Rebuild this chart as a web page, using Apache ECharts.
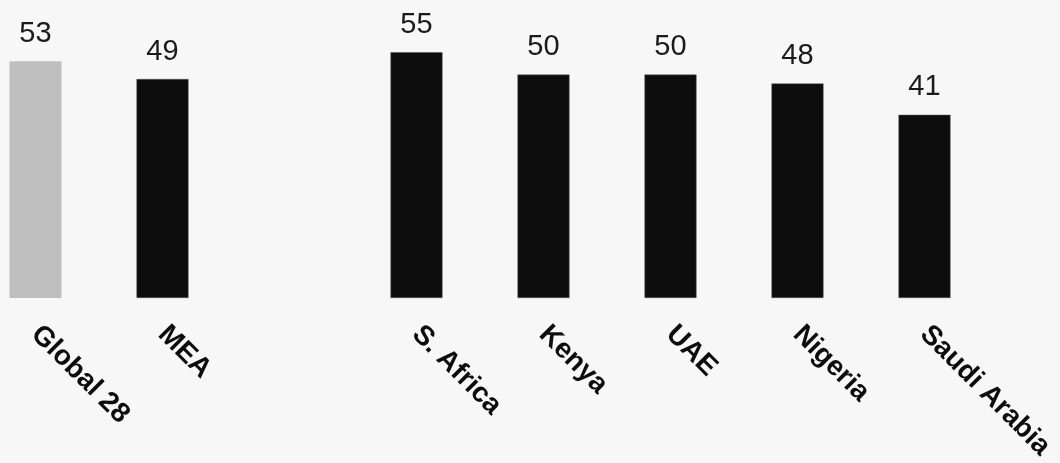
<!DOCTYPE html>
<html>
<head>
<meta charset="utf-8">
<script src="https://cdn.jsdelivr.net/npm/echarts@6/dist/echarts.min.js"></script>
<style>
html,body{margin:0;padding:0;background:#f7f7f7;overflow:hidden;}
#wrap{width:1060px;height:463px;position:relative;overflow:hidden;}
#chart{width:1088px;height:463px;position:absolute;left:-28px;top:0;}
</style>
</head>
<body>
<div id="wrap"><div id="chart"></div></div>
<script>
const categories = ['Global 28', 'MEA', '', 'S. Africa', 'Kenya', 'UAE', 'Nigeria', 'Saudi Arabia'];
const values = [53, 49, null, 55, 50, 50, 48, 41];
const barColors = ['#bfbfbf', '#0d0d0d', '#0d0d0d', '#0d0d0d', '#0d0d0d', '#0d0d0d', '#0d0d0d', '#0d0d0d'];

const chart = echarts.init(document.getElementById('chart'));
chart.setOption({
  backgroundColor: '#f7f7f7',
  animation: false,
  grid: { left: 0, right: 72, top: 0, bottom: 165, containLabel: false },
  xAxis: {
    type: 'category',
    data: categories,
    axisLine: { show: false },
    axisTick: { show: false },
    axisLabel: {
      rotate: -45,
      margin: 32,
      interval: 0,
      fontFamily: 'Liberation Sans, Arial, sans-serif',
      fontWeight: 'bold',
      fontSize: 28,
      color: '#0d0d0d'
    }
  },
  yAxis: {
    type: 'value',
    min: 0,
    max: 66.7,
    show: false,
    splitLine: { show: false }
  },
  series: [{
    type: 'bar',
    barWidth: 52,
    data: values.map((v, i) => v === null ? '-' : {
      value: v,
      itemStyle: { color: barColors[i], borderColor: i === 0 ? '#bfbfbf' : '#555', borderWidth: i === 0 ? 0 : 0.5 }
    }),
    label: {
      show: true,
      position: 'top',
      distance: 13,
      fontFamily: 'Liberation Sans, Arial, sans-serif',
      fontSize: 29,
      color: '#1a1a1a'
    }
  }]
});
</script>
</body>
</html>
